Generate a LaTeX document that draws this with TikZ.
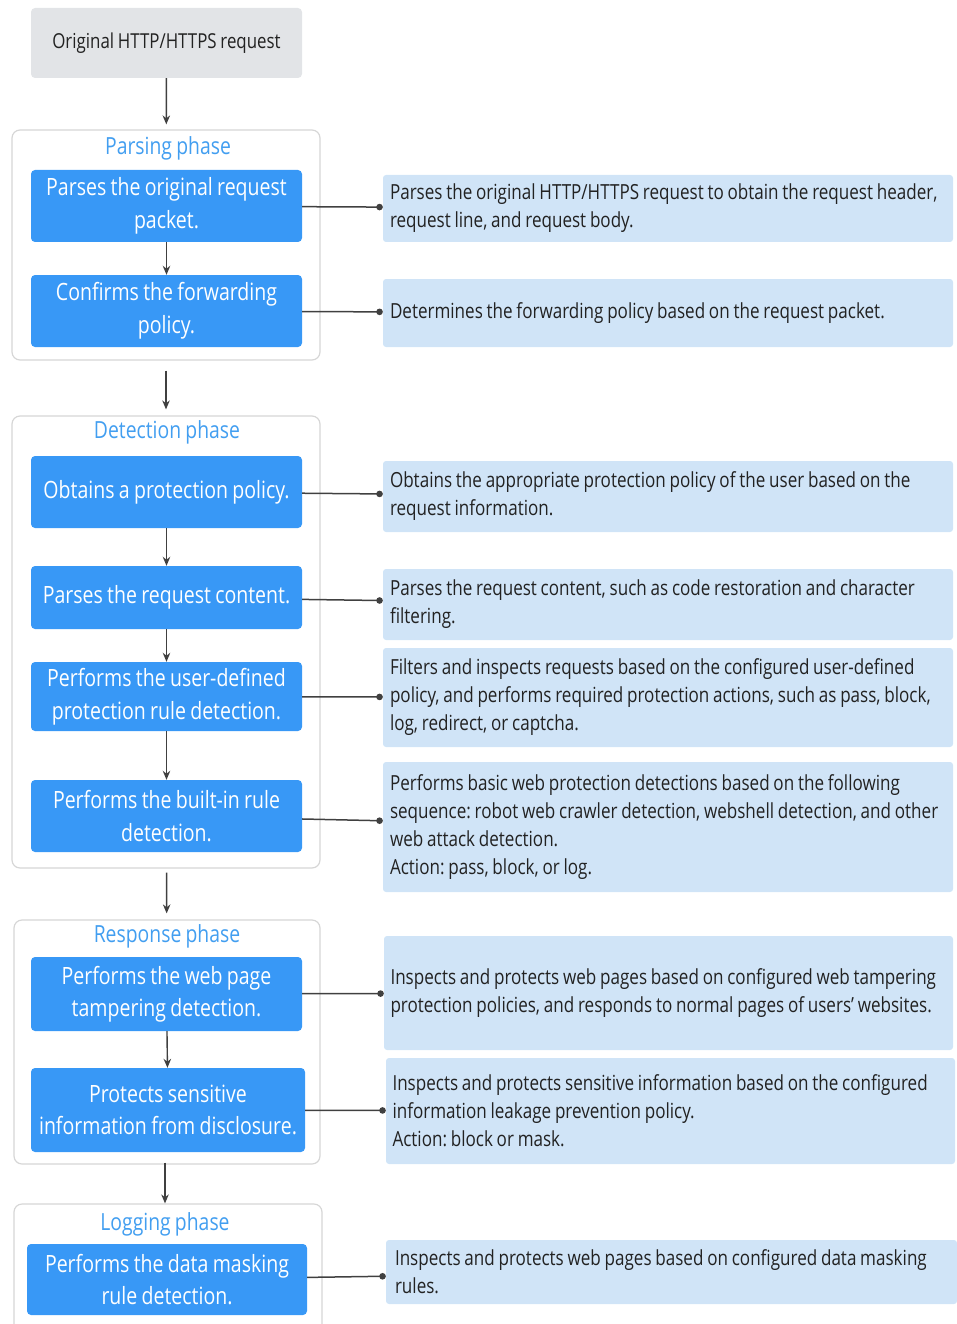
\documentclass[tikz,border=0pt]{standalone}
\usepackage{fontspec}
\setmainfont[FakeStretch=0.82,WordSpace=0.85]{Open Sans}
\usepackage{xcolor}
\usetikzlibrary{arrows,arrows.meta,positioning}

\definecolor{actblue}{RGB}{56,152,246}
\definecolor{titleblue}{RGB}{66,158,240}
\definecolor{descblue}{RGB}{208,228,247}
\definecolor{reqgray}{RGB}{226,228,231}
\definecolor{txtgray}{RGB}{34,34,34}
\definecolor{linegray}{RGB}{64,64,64}

\tikzset{
  act/.style={fill=actblue, rounded corners=4pt, text=white, align=center,
    minimum width=271pt, inner sep=0pt, font=\fontsize{23.8}{32.5}\selectfont},
  desc/.style={fill=descblue, rounded corners=3pt, text=txtgray, align=flush left,
    minimum width=570pt, text width=556pt, inner sep=0pt,
    font=\fontsize{20.8}{28}\selectfont},
  phase/.style={draw=black!16, line width=1.2pt, rounded corners=8pt,
    minimum width=308pt},
  phasetitle/.style={text=titleblue, inner sep=0pt, font=\fontsize{23.6}{28}\selectfont},
  flow/.style={draw=linegray, line width=1.4pt, -{Stealth[length=9pt,width=7.5pt]}},
  link/.style={draw=linegray, line width=1.5pt, -{Circle[length=6.5pt]}}
}

\begin{document}
\frenchspacing
\begin{tikzpicture}[x=1pt,y=-1pt]
\clip (0,0) rectangle (957,1324);

% phase frames
\node[phase, minimum height=230pt] (parsing) at (166,245) {};
\node[phase, minimum height=452pt] (detection) at (166,642) {};
\node[phase, minimum height=244pt, minimum width=306pt] (response) at (167,1042) {};
\node[phase, minimum height=150pt] (logging) at (168,1279) {};

\node[phasetitle] (parsingtitle) at (168,148) {Parsing phase};
\node[phasetitle] (detectiontitle) at (167,432) {Detection phase};
\node[phasetitle] (responsetitle) at (167,936) {Response phase};
\node[phasetitle] (loggingtitle) at (165,1224) {Logging phase};

% left column
\node[act, fill=reqgray, text=txtgray, minimum height=70pt,
  font=\fontsize{20.6}{28}\selectfont] (req) at (166.5,43) {Original HTTP/HTTPS request};
\node[act, minimum height=72pt] (parse) at (166.5,206) {Parses the original request\\packet.};
\node[act, minimum height=72pt] (forward) at (166.5,311) {Confirms the forwarding\\policy.};
\node[act, minimum height=72pt] (obtain) at (166.5,492) {Obtains a protection policy.};
\node[act, minimum height=63pt] (content) at (166.5,597.5) {Parses the request content.};
\node[act, minimum height=69pt] (userrule) at (166.5,696.5) {Performs the user-defined\\protection rule detection.};
\node[act, minimum height=72pt] (builtin) at (166.5,816) {Performs the built-in rule\\detection.};
\node[act, minimum height=74pt] (tamper) at (166.5,994) {Performs the web page\\tampering detection.};
\node[act, minimum height=84pt, minimum width=274pt] (leak) at (168,1110) {Protects sensitive\\information from disclosure.};
\node[act, minimum height=71pt, minimum width=280pt] (masking) at (167,1279.5) {Performs the data masking\\rule detection.};

% right column
\node[desc, minimum height=67pt] (parsetxt) at (668,208.5)
  {Parses the original HTTP/HTTPS request to obtain the request header,\\request line, and request body.};
\node[desc, minimum height=68pt] (forwardtxt) at (668,313)
  {Determines the forwarding policy based on the request packet.};
\node[desc, minimum height=71pt] (obtaintxt) at (668,496.5)
  {Obtains the appropriate protection policy of the user based on the\\request information.};
\node[desc, minimum height=71pt] (contenttxt) at (668,604.5)
  {Parses the request content, such as code restoration and character\\filtering.};
\node[desc, minimum height=99pt] (userruletxt) at (668,697.5)
  {Filters and inspects requests based on the configured user-defined\\policy, and performs required protection actions, such as pass, block,\\log, redirect, or captcha.};
\node[desc, minimum height=130pt] (builtintxt) at (668,827)
  {Performs basic web protection detections based on the following\\sequence: robot web crawler detection, webshell detection, and other\\web attack detection.\\Action: pass, block, or log.};
\node[desc, minimum height=114pt, minimum width=569pt] (tampertxt) at (668.5,993)
  {Inspects and protects web pages based on configured web tampering\\protection policies, and responds to normal pages of users' websites.};
\node[desc, minimum height=106pt, minimum width=569pt] (leaktxt) at (670.5,1111)
  {Inspects and protects sensitive information based on the configured\\information leakage prevention policy.\\Action: block or mask.};
\node[desc, minimum height=64pt, minimum width=571pt, text width=553pt] (maskingtxt) at (671.5,1272)
  {Inspects and protects web pages based on configured data masking\\rules.};

% flow
\draw[flow, shorten >=5pt] (req) -- (parsing);
\draw[flow] (parse) -- (forward);
\draw[flow, shorten <=10pt, shorten >=6pt] (parsing) -- (detection);
\draw[flow] (obtain) -- (content);
\draw[flow] (content) -- (userrule);
\draw[flow] (userrule) -- (builtin);
\draw[flow, shorten <=4pt, shorten >=6pt] (detection) -- (response);
\draw[flow] (tamper) -- (leak);
\draw[flow, shorten <=-2pt] (response.south -| loggingtitle) -- (logging.north -| loggingtitle);

% links
\draw[link] (parse) -- (parsetxt);
\draw[link] (forward) -- (forwardtxt);
\draw[link] (obtain) -- (obtaintxt);
\draw[link] (content) -- (contenttxt);
\draw[link] (userrule) -- (userruletxt);
\draw[link] (builtin) -- (builtintxt);
\draw[link] (tamper) -- (tampertxt);
\draw[link] (leak) -- (leaktxt);
\draw[link] (masking) -- (maskingtxt);
\end{tikzpicture}
\end{document}
